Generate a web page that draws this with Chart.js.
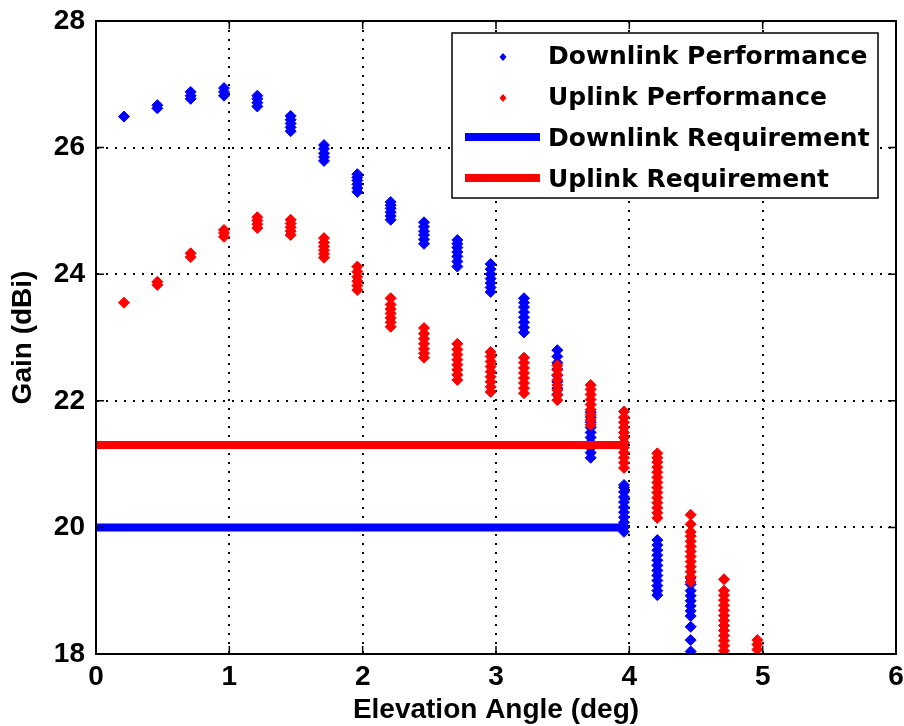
<!DOCTYPE html>
<html>
<head>
<meta charset="utf-8">
<script src="https://cdn.jsdelivr.net/npm/chart.js@4"></script>
<style>
  html, body { margin: 0; padding: 0; background: #fff; }
  #wrap { width: 904px; height: 726px; }
</style>
</head>
<body>
<div id="wrap"><canvas id="chart" width="904" height="726"></canvas></div>
<script>
// elevation angle of each measured column (deg)
const angles = [0.21, 0.46, 0.71, 0.96, 1.21, 1.46, 1.71, 1.96, 2.21, 2.46,
                2.71, 2.96, 3.21, 3.46, 3.71, 3.96, 4.21, 4.46, 4.71, 4.96];

// gain samples (dBi) at each angle
const downlinkGain = [
  [26.49],
  [26.62, 26.67],
  [26.77, 26.82, 26.88],
  [26.82, 26.88, 26.94],
  [26.65, 26.71, 26.77, 26.82],
  [26.26, 26.32, 26.38, 26.44, 26.5],
  [25.79, 25.85, 25.91, 25.98, 26.04],
  [25.3, 25.36, 25.42, 25.48, 25.53, 25.58],
  [24.86, 24.92, 24.98, 25.04, 25.09, 25.14],
  [24.48, 24.55, 24.62, 24.68, 24.75, 24.82],
  [24.12, 24.2, 24.28, 24.35, 24.42, 24.48, 24.54],
  [23.72, 23.79, 23.86, 23.93, 24.0, 24.08, 24.16],
  [23.08, 23.16, 23.24, 23.32, 23.4, 23.48, 23.55, 23.62],
  [22.1, 22.2, 22.3, 22.4, 22.5, 22.6, 22.7, 22.8],
  [21.1, 21.18, 21.26, 21.34, 21.42, 21.5, 21.58, 21.66, 21.74, 21.82],
  [19.93, 20.0, 20.08, 20.16, 20.24, 20.32, 20.4, 20.48, 20.56, 20.63, 20.67],
  [18.93, 19.0, 19.08, 19.16, 19.24, 19.32, 19.4, 19.48, 19.56, 19.64, 19.72, 19.8],
  [18.04, 18.22, 18.43, 18.6, 18.68, 18.76, 18.84, 18.92, 19.0, 19.1, 19.2],
  [],
  []
];

const uplinkGain = [
  [23.55],
  [23.83, 23.88],
  [24.27, 24.33],
  [24.59, 24.65, 24.7],
  [24.73, 24.79, 24.85, 24.9],
  [24.62, 24.68, 24.74, 24.8, 24.86],
  [24.26, 24.32, 24.38, 24.44, 24.5, 24.57],
  [23.75, 23.82, 23.89, 23.96, 24.04, 24.12],
  [23.17, 23.24, 23.31, 23.38, 23.45, 23.52, 23.62],
  [22.68, 22.75, 22.82, 22.9, 22.98, 23.06, 23.15],
  [22.33, 22.41, 22.49, 22.57, 22.65, 22.73, 22.81, 22.9],
  [22.14, 22.22, 22.3, 22.38, 22.46, 22.54, 22.62, 22.7, 22.77],
  [22.12, 22.2, 22.28, 22.36, 22.44, 22.52, 22.6, 22.68],
  [22.01, 22.09, 22.17, 22.25, 22.33, 22.41, 22.49, 22.56],
  [21.62, 21.7, 21.78, 21.86, 21.94, 22.02, 22.1, 22.18, 22.25],
  [20.94, 21.02, 21.1, 21.18, 21.26, 21.34, 21.42, 21.5, 21.58, 21.66, 21.74, 21.83],
  [20.15, 20.23, 20.31, 20.39, 20.47, 20.55, 20.63, 20.71, 20.79, 20.87, 20.95, 21.03, 21.1, 21.17],
  [19.14, 19.22, 19.3, 19.38, 19.46, 19.54, 19.62, 19.7, 19.78, 19.86, 19.93, 20.05, 20.2],
  [18.05, 18.13, 18.21, 18.29, 18.37, 18.45, 18.53, 18.61, 18.69, 18.77, 18.85, 18.93, 19.0, 19.18],
  [18.07, 18.15, 18.22]
];

// requirement levels (dBi) and the angle span they cover
const downlinkReq = 20.0;
const uplinkReq = 21.3;
const reqAngles = [0, 3.96];

const seriesLabels = ["Downlink Performance", "Uplink Performance",
                      "Downlink Requirement", "Uplink Requirement"];
const seriesColors = ["#0000ff", "#ff0000", "#0000ff", "#ff0000"];

const BLUE = "#0000ff";
const RED = "#ff0000";
const tickFont = { family: "Liberation Sans", size: 28, weight: "bold", lineHeight: 1.1 };

function columns(gains) {
  const pts = [];
  angles.forEach((a, i) => gains[i].forEach(g => pts.push({ x: a, y: g })));
  return pts;
}

// matlab style box: inward ticks on all sides, solid frame, boxed legend
const framePlugin = {
  id: "frame",
  afterDraw(chart) {
    const { ctx, chartArea: a, scales: { x, y } } = chart;
    ctx.save();
    ctx.strokeStyle = "#000";
    ctx.lineWidth = 1.5;
    ctx.beginPath();
    x.ticks.forEach(t => {
      const px = x.getPixelForValue(t.value);
      ctx.moveTo(px, a.bottom); ctx.lineTo(px, a.bottom - 8);
      ctx.moveTo(px, a.top); ctx.lineTo(px, a.top + 8);
    });
    y.ticks.forEach(t => {
      const py = y.getPixelForValue(t.value);
      ctx.moveTo(a.left, py); ctx.lineTo(a.left + 8, py);
      ctx.moveTo(a.right, py); ctx.lineTo(a.right - 8, py);
    });
    ctx.stroke();
    ctx.lineWidth = 2;
    ctx.strokeRect(a.left, a.top, a.right - a.left, a.bottom - a.top);

    // legend
    const w = 426, h = 165;
    const left = a.right - 18 - w, top = a.top + 12;
    ctx.fillStyle = "#fff";
    ctx.fillRect(left, top, w, h);
    ctx.lineWidth = 1.5;
    ctx.strokeRect(left, top, w, h);
    ctx.font = 'bold 25px "DejaVu Sans"';
    ctx.textBaseline = "middle";
    seriesLabels.forEach((label, i) => {
      const cy = top + 24 + i * 41;
      ctx.fillStyle = seriesColors[i];
      ctx.strokeStyle = seriesColors[i];
      if (i < 2) {
        ctx.beginPath();
        ctx.moveTo(left + 51, cy - 4); ctx.lineTo(left + 54.5, cy);
        ctx.lineTo(left + 51, cy + 4); ctx.lineTo(left + 47.5, cy);
        ctx.closePath();
        ctx.fill();
      } else {
        ctx.lineWidth = 8;
        ctx.beginPath();
        ctx.moveTo(left + 13, cy - 2); ctx.lineTo(left + 88, cy - 2);
        ctx.stroke();
      }
      ctx.fillStyle = "#000";
      ctx.fillText(label, left + 96, cy);
    });
    ctx.restore();
  }
};

const pointStyle = { pointStyle: "rectRot", pointRadius: 5.5, borderWidth: 1, showLine: false };

new Chart(document.getElementById("chart"), {
  type: "scatter",
  data: {
    datasets: [
      { ...pointStyle, label: seriesLabels[0], data: columns(downlinkGain),
        backgroundColor: BLUE, borderColor: BLUE, order: 4 },
      { ...pointStyle, label: seriesLabels[1], data: columns(uplinkGain),
        backgroundColor: RED, borderColor: RED, order: 3 },
      { label: seriesLabels[2], data: reqAngles.map(a => ({ x: a, y: downlinkReq })),
        showLine: true, borderColor: BLUE, backgroundColor: BLUE, borderWidth: 8,
        pointRadius: 0, borderCapStyle: "butt", order: 2 },
      { label: seriesLabels[3], data: reqAngles.map(a => ({ x: a, y: uplinkReq })),
        showLine: true, borderColor: RED, backgroundColor: RED, borderWidth: 8,
        pointRadius: 0, borderCapStyle: "butt", order: 1 }
    ]
  },
  options: {
    responsive: false,
    animation: false,
    events: [],
    layout: { padding: { top: 21, right: 8, bottom: 0, left: 0 } },
    plugins: { legend: { display: false }, tooltip: { enabled: false } },
    scales: {
      x: {
        type: "linear", min: 0, max: 6,
        afterFit: s => { s.height = 72; s.paddingLeft = 0; s.paddingRight = 0; },
        ticks: { stepSize: 1, padding: 8, color: "#000", font: tickFont },
        grid: { color: "#000", lineWidth: 2, drawTicks: false },
        border: { display: true, color: "#000", width: 2, dash: [2, 7] },
        title: { display: true, text: "Elevation Angle (deg)", color: "#000",
                 font: tickFont, padding: { top: 0, bottom: 0 } }
      },
      y: {
        type: "linear", min: 18, max: 28,
        afterFit: s => { s.width = 96; s.paddingTop = 0; s.paddingBottom = 0; },
        ticks: { stepSize: 2, padding: 11, color: "#000", font: tickFont },
        grid: { color: "#000", lineWidth: 2, drawTicks: false },
        border: { display: true, color: "#000", width: 2, dash: [2, 7] },
        title: { display: true, text: "Gain (dBi)", color: "#000",
                 font: tickFont, padding: { top: 8, bottom: 0 } }
      }
    }
  },
  plugins: [framePlugin]
});
</script>
</body>
</html>
